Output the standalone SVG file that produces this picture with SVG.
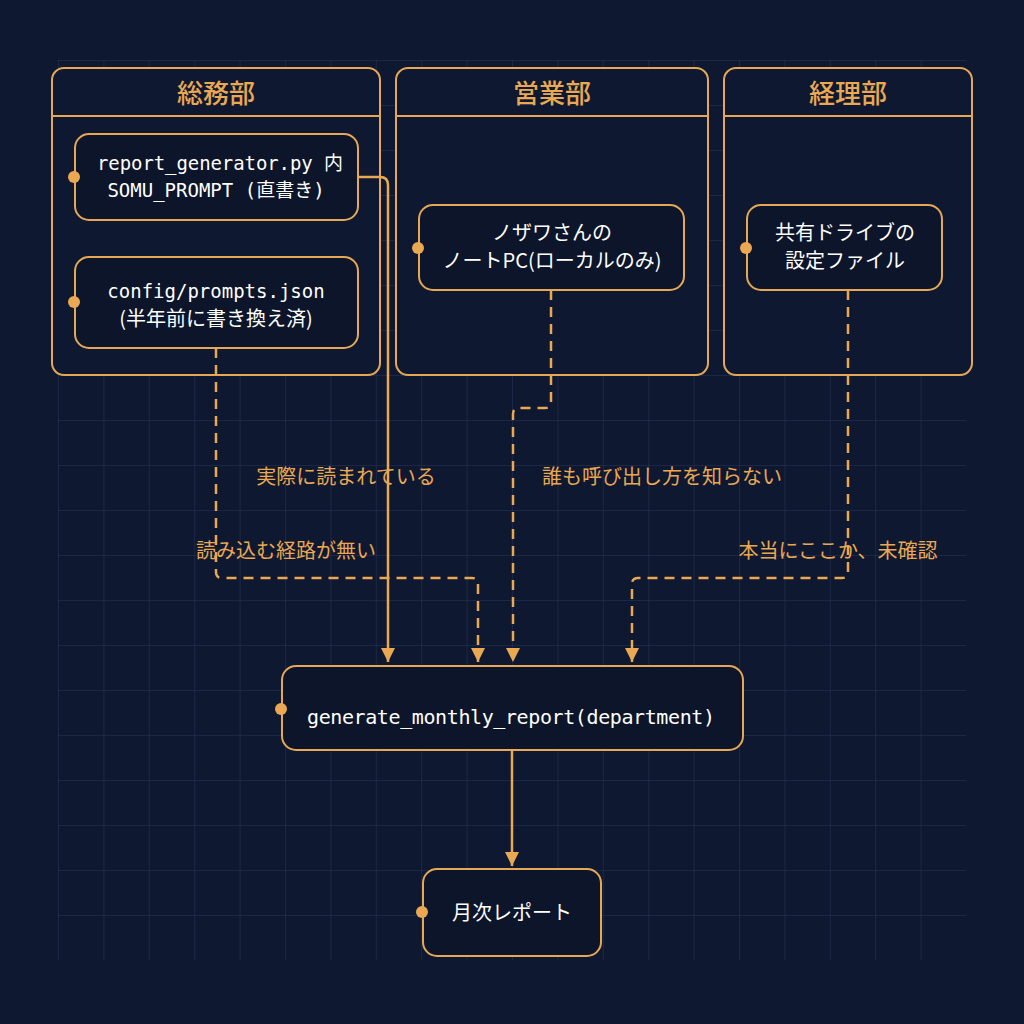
<svg xmlns="http://www.w3.org/2000/svg" width="1024" height="1024" viewBox="0 0 1024 1024">
<defs>
<pattern id="grid" x="58" y="60" width="45.4" height="45" patternUnits="userSpaceOnUse">
<path d="M45.4 0H0V45" fill="none" stroke="#26355a" stroke-width="1"/>
</pattern>
<marker id="ad" markerWidth="16" markerHeight="16" refX="8" refY="14" orient="0" markerUnits="userSpaceOnUse" viewBox="0 0 16 16">
<path d="M1 0L15 0L8 14Z" fill="#eaa852"/>
</marker>
</defs>
<style>
.pan{fill:#0e1830;stroke:#e6a855;stroke-width:2}
.nd{fill:#0c1529;stroke:#e6a855;stroke-width:2}
.dot{fill:#eaa852}
.hd{font-family:"Noto Sans CJK JP","Noto Sans",sans-serif;font-size:26px;fill:#eaa852;text-anchor:middle;font-weight:500}
.tx{font-family:"DejaVu Sans Mono","Noto Sans CJK JP",monospace;font-size:19px;fill:#ffffff;text-anchor:middle}
.tj{font-family:"Noto Sans CJK JP",sans-serif;font-size:20px;fill:#ffffff;text-anchor:middle}
.lb{font-family:"Noto Sans CJK JP",sans-serif;font-size:20px;fill:#eaa852;text-anchor:middle}
.c{fill:none;stroke:#eaa852;stroke-width:2.5}
.d{stroke-dasharray:10 7}
</style>
<rect width="1024" height="1024" fill="#0e1830"/>
<rect x="58" y="60" width="908" height="900" fill="url(#grid)"/>
<g id="soumu"><rect class="pan" x="52" y="68" width="328" height="307" rx="12"/><line x1="52" y1="116" x2="380" y2="116" stroke="#e6a855" stroke-width="2"/><text class="hd" x="216" y="103">総務部</text></g>
<g id="eigyo"><rect class="pan" x="396" y="68" width="312" height="307" rx="12"/><line x1="396" y1="116" x2="708" y2="116" stroke="#e6a855" stroke-width="2"/><text class="hd" x="552" y="103">営業部</text></g>
<g id="keiri"><rect class="pan" x="724" y="68" width="248" height="307" rx="12"/><line x1="724" y1="116" x2="972" y2="116" stroke="#e6a855" stroke-width="2"/><text class="hd" x="848" y="103">経理部</text></g>
<g id="connectors">
<path class="c" d="M358 177H380Q388 177 388 185V662" marker-end="url(#ad)"/>
<path class="c d" d="M216 348V572Q216 578 222 578H472Q478 578 478 584V662" marker-end="url(#ad)"/>
<path class="c d" d="M551 290V402Q551 408 545 408H519Q513 408 513 414V662" marker-end="url(#ad)"/>
<path class="c d" d="M848 290V572Q848 578 842 578H638Q632 578 632 584V662" marker-end="url(#ad)"/>
<path class="c" d="M512 750V866" marker-end="url(#ad)"/>
<text class="lb" x="346" y="484">実際に読まれている</text>
<text class="lb" x="286" y="558">読み込む経路が無い</text>
<text class="lb" x="662" y="484">誰も呼び出し方を知らない</text>
<text class="lb" x="838" y="558">本当にここか、未確認</text>
</g>
<g id="nodeA"><rect class="nd" x="75" y="134" width="283" height="86" rx="14"/><circle class="dot" cx="74" cy="177" r="6"/><text class="tx" x="220" y="170" textLength="246">report_generator.py 内</text><text class="tx" x="216" y="197">SOMU_PROMPT (直書き)</text></g>
<g id="nodeB"><rect class="nd" x="75" y="257" width="283" height="91" rx="14"/><circle class="dot" cx="74" cy="302" r="6"/><text class="tx" x="216" y="298">config/prompts.json</text><text class="tj" x="216" y="326">(半年前に書き換え済)</text></g>
<g id="nodeC"><rect class="nd" x="419" y="205" width="265" height="85" rx="14"/><circle class="dot" cx="418" cy="248" r="6"/><text class="tj" x="552" y="240">ノザワさんの</text><text class="tj" x="552" y="268">ノートPC(ローカルのみ)</text></g>
<g id="nodeD"><rect class="nd" x="747" y="205" width="195" height="85" rx="14"/><circle class="dot" cx="746" cy="248" r="6"/><text class="tj" x="845" y="240">共有ドライブの</text><text class="tj" x="845" y="268">設定ファイル</text></g>
<g id="main"><rect class="nd" x="282" y="666" width="461" height="84" rx="14"/><circle class="dot" cx="281" cy="709" r="6"/><text class="tx" x="511" y="724" style="font-size:20px" textLength="408">generate_monthly_report(department)</text></g>
<g id="report"><rect class="nd" x="423" y="869" width="178" height="87" rx="14"/><circle class="dot" cx="422" cy="912" r="6"/><text class="tj" x="512" y="920">月次レポート</text></g>
</svg>
